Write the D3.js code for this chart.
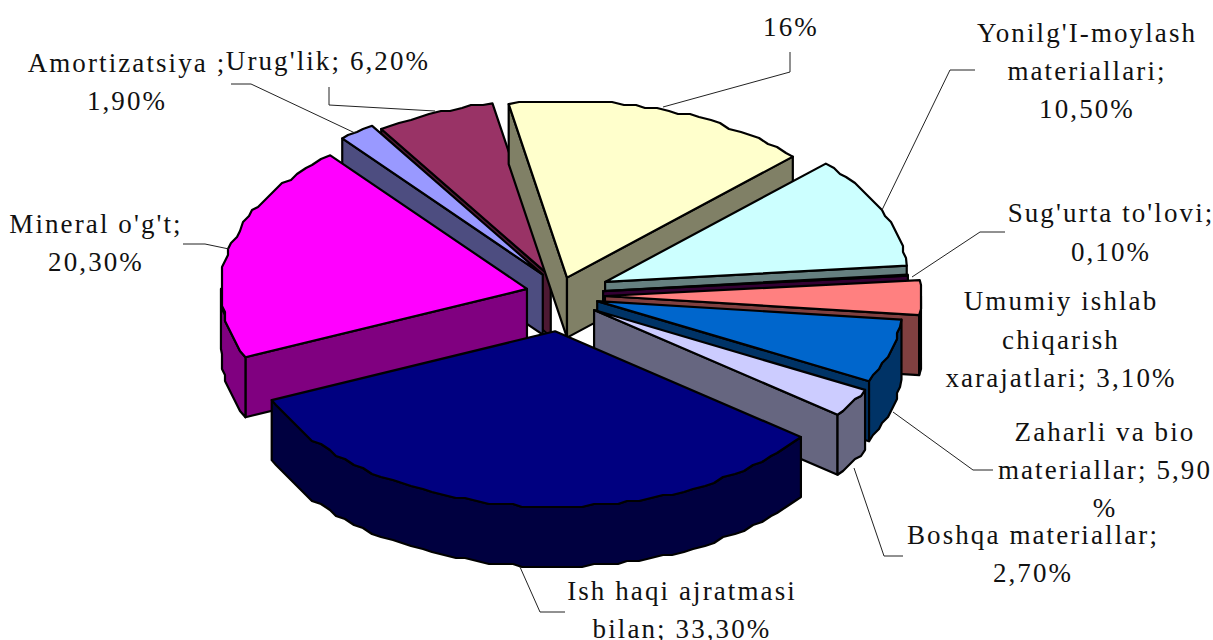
<!DOCTYPE html>
<html>
<head>
<meta charset="utf-8">
<script src="https://d3js.org/d3.v7.min.js"></script>
<style>
  body { margin: 0; background: #fff; }
  svg { display: block; }
  text { font-family: "Liberation Serif", serif; font-size: 27px; letter-spacing: 2.1px; fill: #111; }
</style>
</head>
<body>
<script>
const width = 1213;
const height = 640;

// chart data, same order as the sheet
const categories = ["Amortizatsiya", "Urug'lik", "", "Yonilg'I-moylash materiallari", "Sug'urta to'lovi",
    "Umumiy ishlab chiqarish xarajatlari", "Zaharli va bio materiallar", "Boshqa materiallar",
    "Ish haqi ajratmasi bilan", "Mineral o'g't"];
const values = [1.9, 6.2, 16, 10.5, 0.1, 3.1, 5.9, 2.7, 33.3, 20.3];
const topColors = ['#9999ff', '#993366', '#ffffcc', '#ccffff', '#660066', '#ff8080', '#0066cc', '#ccccff', '#000080', '#ff00ff'];
const sideColors = ['#4d4d80', '#4d1933', '#808066', '#668080', '#330033', '#804040', '#003366', '#666680', '#000040', '#800080'];

// the old renderer does not place slices evenly:
// pull-out distance, pull-out direction off the slice middle (deg), radius of each slice
const explode = [45, 38, 34, 48, 39.5, 40, 33, 37, 61, 40.6];
const explodeTurn = [7, 0, -14.6, -9, -10, -3, -4, 6, 2.4, 7];
const radii = [312, 310, 310, 303, 306, 316, 306, 305, 308, 306];
// back slices first
const drawOrder = [1, 0, 2, 3, 4, 5, 9, 6, 7, 8];

// text as it wraps in the picture
const labelLines = [
    ["Amortizatsiya ;", "1,90%"],
    ["Urug'lik; 6,20%"],
    ["16%"],
    ["Yonilg'I-moylash", "materiallari;", "10,50%"],
    ["Sug'urta to'lovi;", "0,10%"],
    ["Umumiy ishlab", "chiqarish", "xarajatlari; 3,10%"],
    ["Zaharli va bio", "materiallar; 5,90", "%"],
    ["Boshqa materiallar;", "2,70%"],
    ["Ish haqi ajratmasi", "bilan; 33,30%"],
    ["Mineral o'g't;", "20,30%"]
];
const labelAnchors = [[127, 72], [328, 70], [791, 36], [1087, 42], [1111, 222], [1061, 310], [1105, 441], [1033, 544], [682, 600], [96, 233]];
const lineGap = [38, 38, 38, 38, 39, 38.5, 38, 38, 38, 38];
const leaders = [
    [[231, 84], [251, 84], [355, 133]],
    [[329, 87], [329, 105], [435, 111]],
    [[790, 52], [790, 72], [663, 107]],
    [[975, 70], [950, 70], [882, 210]],
    [[1005, 232], [980, 232], [912, 277]],
    null,
    [[993, 470], [973, 470], [893, 412]],
    [[903, 556], [884, 556], [854, 468]],
    [[565, 612], [540, 612], [520, 567]],
    [[183, 244], [205, 244], [229, 249]]
];

const cx = 565, cy = 297;
const tilt = 0.57;
const depth = 60;
const rad = Math.PI / 180;

const pie = d3.pie().sort(null).startAngle(-40 * rad).endAngle(320 * rad);
const arcs = pie(values);

const svg = d3.select('body').append('svg')
    .attr('width', width)
    .attr('height', height);

const line = d3.line();

// outer edge is rough in the original, coarse grid gives the same steps
const snap = v => Math.round(v / 3) * 3;

const slices = arcs.map((d, i) => {
    const dir = (d.startAngle + d.endAngle) / 2 + explodeTurn[i] * rad;
    const ax = cx + explode[i] * Math.sin(dir);
    const ay = cy - explode[i] * Math.cos(dir) * tilt;
    const at = a => [ax + radii[i] * Math.sin(a), ay - radii[i] * Math.cos(a) * tilt];
    const rim = (a0, a1) => {
        const n = Math.max(1, Math.ceil((a1 - a0) / (2.2 * rad)));
        return d3.range(n + 1).map(k => {
            const p = at(a0 + (a1 - a0) * k / n);
            return (k === 0 || k === n) ? p : [snap(p[0]), snap(p[1])];
        });
    };
    return {i, ax, ay, at, rim, a0: d.startAngle, a1: d.endAngle};
});

const down = p => [p[0], p[1] + depth];

drawOrder.map(i => slices[i]).forEach(s => {
    const g = svg.append('g')
        .attr('stroke', '#000')
        .attr('stroke-width', 2.2)
        .attr('stroke-linejoin', 'round');
    const apex = [s.ax, s.ay];
    const face = pts => g.append('path')
        .attr('d', line(pts) + 'Z')
        .attr('fill', sideColors[s.i]);

    // only the faces turned to the viewer
    if (Math.sin(s.a0) < 0) {
        const e = s.at(s.a0);
        face([apex, e, down(e), down(apex)]);
    }
    if (Math.sin(s.a1) > 0) {
        const e = s.at(s.a1);
        face([apex, e, down(e), down(apex)]);
    }
    const from = Math.max(s.a0, 90 * rad);
    const to = Math.min(s.a1, 270 * rad);
    if (from < to) {
        const top = s.rim(from, to);
        face(top.concat(top.map(down).reverse()));
    }

    g.append('path')
        .attr('d', line([apex].concat(s.rim(s.a0, s.a1))) + 'Z')
        .attr('fill', topColors[s.i]);
});

svg.append('g').selectAll('path')
    .data(leaders.filter(d => d))
    .enter().append('path')
    .attr('d', d => line(d))
    .attr('fill', 'none')
    .attr('stroke', '#222')
    .attr('stroke-width', 1);

const labels = svg.append('g').selectAll('text')
    .data(labelLines)
    .enter().append('text')
    .attr('text-anchor', 'middle');

labels.selectAll('tspan')
    .data((d, i) => d.map((t, k) => ({t, k, i})))
    .enter().append('tspan')
    .attr('x', d => labelAnchors[d.i][0])
    .attr('y', d => labelAnchors[d.i][1] + d.k * lineGap[d.i])
    .text(d => d.t);
</script>
</body>
</html>
